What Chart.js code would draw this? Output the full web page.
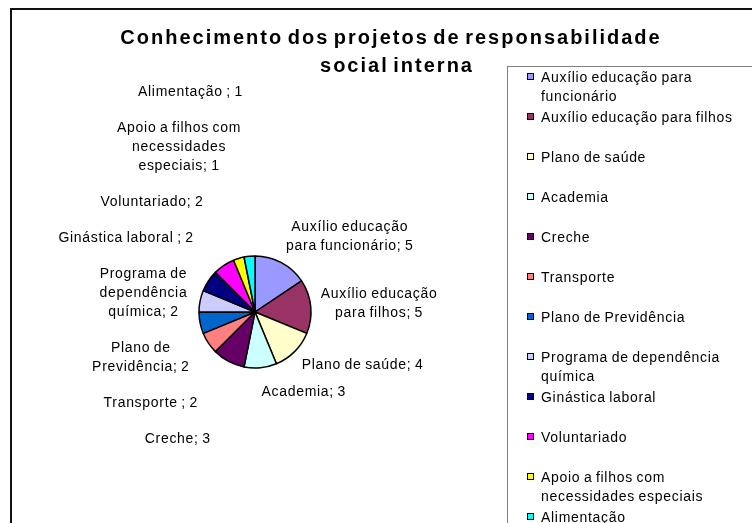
<!DOCTYPE html>
<html>
<head>
<meta charset="utf-8">
<script src="https://cdn.jsdelivr.net/npm/chart.js@4.4.0/dist/chart.umd.min.js"></script>
<style>
  html, body { margin: 0; padding: 0; background: #fff; overflow: hidden; }
  #wrap { width: 752px; height: 523px; }
</style>
</head>
<body>
<div id="wrap"><canvas id="pieChart" width="752" height="523"></canvas></div>
<script>
// Data for the chart
var titleLines = ['Conhecimento dos projetos de responsabilidade', 'social interna'];
var categories = [
  'Auxílio educação para funcionário',
  'Auxílio educação para filhos',
  'Plano de saúde',
  'Academia',
  'Creche',
  'Transporte ',
  'Plano de Previdência',
  'Programa de dependência química',
  'Ginástica laboral ',
  'Voluntariado',
  'Apoio a filhos com necessidades especiais',
  'Alimentação '
];
var values = [5, 5, 4, 3, 3, 2, 2, 2, 2, 2, 1, 1];
var colors = ['#9999FF', '#993366', '#FFFFCC', '#CCFFFF', '#660066', '#FF8080',
              '#0066CC', '#CCCCFF', '#000080', '#FF00FF', '#FFFF00', '#00FFFF'];

var FONT = '"Liberation Sans", Arial, sans-serif';

function wrapText(ctx, text, maxWidth) {
  var words = text.split(' ');
  var lines = [], cur = '';
  words.forEach(function (w) {
    var test = cur ? cur + ' ' + w : w;
    if (cur && ctx.measureText(test.trim()).width > maxWidth) {
      lines.push(cur);
      cur = w;
    } else {
      cur = test;
    }
  });
  if (cur) lines.push(cur);
  return lines;
}

// labels on one side, top to bottom: the one closest to horizontal stays,
// the others are pushed outward until they no longer overlap
function spread(items, gap) {
  var pivot = 0, best = Infinity;
  items.forEach(function (it, j) {
    if (it.tilt < best - 1e-6) { best = it.tilt; pivot = j; }
  });
  var j, lim;
  for (j = pivot - 1; j >= 0; j--) {
    lim = items[j + 1].cy - items[j + 1].h / 2 - gap - items[j].h / 2;
    if (items[j].cy > lim) items[j].cy = lim;
  }
  for (j = pivot + 1; j < items.length; j++) {
    lim = items[j - 1].cy + items[j - 1].h / 2 + gap + items[j].h / 2;
    if (items[j].cy < lim) items[j].cy = lim;
  }
}

function setTextStyle(ctx) {
  ctx.font = '14px ' + FONT;
  ctx.letterSpacing = '0.7px';
  ctx.wordSpacing = '-1px';
}

// frame, title and legend
var framePlugin = {
  id: 'frame',
  beforeDraw: function (chart) {
    var ctx = chart.ctx;
    ctx.save();
    ctx.strokeStyle = '#111';
    ctx.lineWidth = 2;
    ctx.strokeRect(11, 9, 900, 900);

    ctx.fillStyle = '#000';
    ctx.textAlign = 'center';
    ctx.textBaseline = 'middle';
    ctx.font = 'bold 20px ' + FONT;
    ctx.letterSpacing = '2px';
    ctx.wordSpacing = '-3px';
    ctx.fillText(titleLines[0], 391, 38);
    ctx.fillText(titleLines[1], 397, 66);

    // legend box
    ctx.strokeStyle = '#808080';
    ctx.lineWidth = 1;
    ctx.strokeRect(507.5, 66.5, 400, 500);
    setTextStyle(ctx);
    ctx.textAlign = 'left';
    categories.forEach(function (c, i) {
      var y = 78 + 40 * i;
      ctx.fillStyle = colors[i];
      ctx.fillRect(527, y - 5, 7, 7);
      ctx.strokeStyle = '#000';
      ctx.strokeRect(527.5, y - 4.5, 6, 6);
      ctx.fillStyle = '#000';
      wrapText(ctx, c.trim(), 202).forEach(function (line, k) {
        ctx.fillText(line, 541, y + k * 19);
      });
    });
    ctx.restore();
  }
};

// "Category; value" labels placed around the pie
var labelPlugin = {
  id: 'sliceLabels',
  afterDatasetsDraw: function (chart) {
    var ctx = chart.ctx;
    var meta = chart.getDatasetMeta(0);
    ctx.save();
    setTextStyle(ctx);
    var lh = 19;
    var left = [], right = [];
    meta.data.forEach(function (arc, i) {
      var p = arc.getProps(['x', 'y', 'startAngle', 'endAngle', 'outerRadius'], true);
      var mid = (p.startAngle + p.endAngle) / 2;
      var r = p.outerRadius + 10;
      var ax = p.x + Math.cos(mid) * r, ay = p.y + Math.sin(mid) * r;
      // keep "; value" attached to the last word
      var lines = wrapText(ctx, categories[i] + ';\u00a0' + values[i], 150);
      var w = Math.max.apply(null, lines.map(function (l) { return ctx.measureText(l).width; }));
      var h = lines.length * lh;
      var item = { lines: lines, w: w, h: h, ax: ax, cy: ay + Math.sin(mid) * h / 2,
                   tilt: Math.abs(Math.sin(mid)), px: p.x, py: p.y, R: p.outerRadius };
      (Math.cos(mid) >= 0 ? right : left).push(item);
    });
    left.reverse();
    spread(right, 8);
    spread(left, 17);

    ctx.fillStyle = '#000';
    ctx.textAlign = 'center';
    ctx.textBaseline = 'middle';
    right.forEach(function (it) {
      var x = it.ax + it.w / 2;
      it.lines.forEach(function (l, k) {
        ctx.fillText(l, x, it.cy - it.h / 2 + lh * (k + 0.5));
      });
    });
    left.forEach(function (it) {
      var dy = it.cy - it.py;
      var a = it.R + 12, b = it.R * 3;
      var dx = Math.max(12, a * Math.sqrt(Math.max(0, 1 - (dy / b) * (dy / b))));
      var x = it.px - dx - it.w / 2;
      it.lines.forEach(function (l, k) {
        ctx.fillText(l, x, it.cy - it.h / 2 + lh * (k + 0.5));
      });
    });
    ctx.restore();
  }
};

var ctx = document.getElementById('pieChart').getContext('2d');
var pieChart = new Chart(ctx, {
  type: 'pie',
  data: {
    labels: categories,
    datasets: [{
      data: values,
      backgroundColor: colors,
      borderColor: '#000',
      borderWidth: 1.5,
      radius: 56
    }]
  },
  options: {
    responsive: false,
    animation: false,
    devicePixelRatio: 1,
    layout: { padding: { left: 150, right: 392, top: 250, bottom: 149 } },
    plugins: {
      legend: { display: false },
      title: { display: false },
      tooltip: { enabled: false }
    },
    events: []
  },
  plugins: [framePlugin, labelPlugin]
});
</script>
</body>
</html>
